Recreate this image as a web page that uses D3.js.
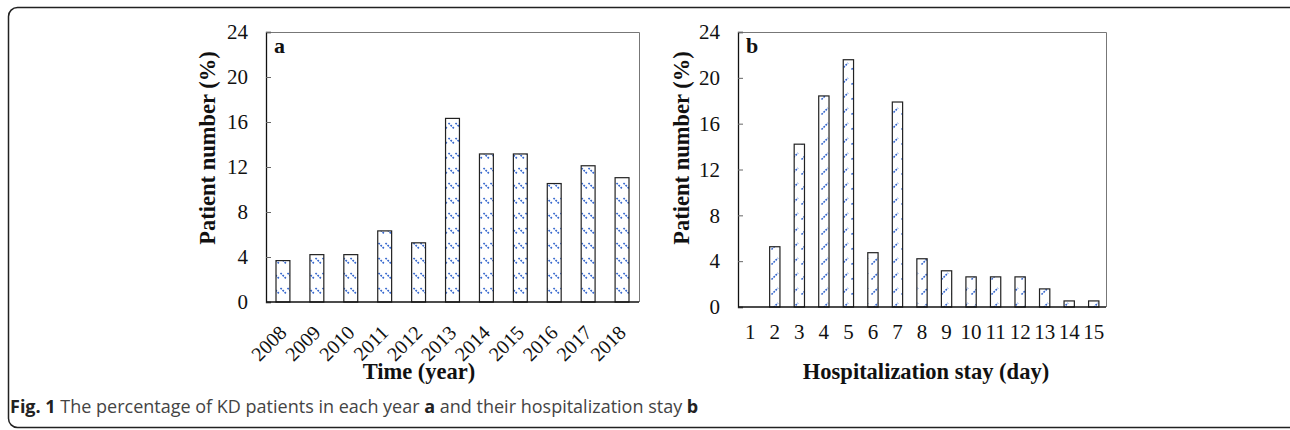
<!DOCTYPE html>
<html>
<head>
<meta charset="utf-8">
<script src="https://cdn.jsdelivr.net/npm/d3@7"></script>
<style>
  html, body { margin: 0; padding: 0; background: #fff; }
  svg { display: block; }
</style>
</head>
<body>
<svg id="chart" width="1290" height="430"></svg>
<script>
// ---- data ----
const yearCategories = ["2008","2009","2010","2011","2012","2013","2014","2015","2016","2017","2018"];
const yearValues = [3.68, 4.21, 4.21, 6.32, 5.26, 16.32, 13.16, 13.16, 10.53, 12.11, 11.05];
const stayCategories = ["1","2","3","4","5","6","7","8","9","10","11","12","13","14","15"];
const stayValues = [0, 5.26, 14.21, 18.42, 21.58, 4.74, 17.89, 4.21, 3.16, 2.63, 2.63, 2.63, 1.58, 0.53, 0.53];
const yTicks = [0, 4, 8, 12, 16, 20, 24];
const yTitle = "Patient number (%)";
const xTitleA = "Time (year)";
const xTitleB = "Hospitalization stay (day)";

const svg = d3.select("#chart");
const serif = "'Liberation Serif', 'Times New Roman', serif";

// border
svg.append("rect")
  .attr("x", 8.5).attr("y", 7.5).attr("width", 1290).attr("height", 420)
  .attr("rx", 9).attr("ry", 9)
  .attr("fill", "none").attr("stroke", "#222").attr("stroke-width", 1.5);

// patterns
const defs = svg.append("defs");
const pa = defs.append("pattern").attr("id", "patA")
  .attr("patternUnits", "userSpaceOnUse").attr("width", 7).attr("height", 15);
pa.append("line").attr("x1", 0.5).attr("y1", 3).attr("x2", 6.5).attr("y2", 9)
  .attr("stroke", "#2f62cc").attr("stroke-width", 1.6).attr("stroke-dasharray", "1.8,1.1");
const pb = defs.append("pattern").attr("id", "patB")
  .attr("patternUnits", "userSpaceOnUse").attr("width", 10).attr("height", 15);
pb.append("line").attr("x1", 1.5).attr("y1", 9.5).attr("x2", 8).attr("y2", 3)
  .attr("stroke", "#2f62cc").attr("stroke-width", 1.6).attr("stroke-dasharray", "1.8,1.1");

function panel(opts) {
  const { x0, x1, y0, y1, cats, vals, pattern, letter, rotateLabels, xTitle, xTitleX, yTitleX, pad } = opts;
  const g = svg.append("g");
  const x = d3.scaleBand().domain(cats).range([x0, x1]).paddingInner(pad).paddingOuter(pad / 2);
  const y = d3.scaleLinear().domain([0, 24]).range([y1, y0]);

  // frame top/right (grey)
  g.append("path")
    .attr("d", `M${x0},${y0 + 0.5}H${x1 + 0.5}V${y1}`)
    .attr("fill", "none").attr("stroke", "#777").attr("stroke-width", 1);

  // bars
  g.selectAll("rect.bar").data(vals).join("rect")
    .attr("class", "bar")
    .attr("x", (d, i) => x(cats[i]))
    .attr("width", x.bandwidth())
    .attr("y", d => y(d))
    .attr("height", d => y(0) - y(d))
    .attr("fill", `url(#${pattern})`)
    .attr("stroke", "#222").attr("stroke-width", 1.2);

  // y axis
  const ya = g.append("g").attr("transform", `translate(${x0},0)`)
    .call(d3.axisLeft(y).tickValues(yTicks).tickSize(-5).tickPadding(18));
  ya.select(".domain").attr("stroke", "#111").attr("stroke-width", 1.3);
  ya.selectAll(".tick line").attr("stroke", "#666");
  ya.selectAll("text").attr("font-family", serif).attr("font-size", 21).attr("fill", "#111");

  // x axis
  const xa = g.append("g").attr("transform", `translate(0,${y1})`)
    .call(d3.axisBottom(x).tickSize(0).tickSizeOuter(0).tickPadding(17));
  xa.select(".domain").attr("stroke", "#111").attr("stroke-width", 1.3)
    .attr("d", `M${x0},0H${x1}`);
  xa.selectAll("text").attr("font-family", serif).attr("font-size", 21).attr("fill", "#111");
  if (rotateLabels) {
    xa.selectAll("text")
      .attr("text-anchor", "end")
      .attr("font-size", 20)
      .attr("y", 0).attr("x", 0).attr("dy", "0.35em")
      .attr("transform", `translate(0,27) rotate(-45)`);
  }

  // axis titles
  g.append("text")
    .attr("transform", `translate(${yTitleX},148) rotate(-90)`)
    .attr("text-anchor", "middle").attr("dy", "0.35em")
    .attr("font-family", serif).attr("font-weight", "bold").attr("font-size", 22.5)
    .attr("fill", "#111").text(yTitle);
  g.append("text")
    .attr("x", xTitleX).attr("y", 379)
    .attr("text-anchor", "middle")
    .attr("font-family", serif).attr("font-weight", "bold").attr("font-size", 22.5)
    .attr("fill", "#111").text(xTitle);

  // panel letter
  g.append("text")
    .attr("x", x0 + 8).attr("y", y0 + 21)
    .attr("font-family", serif).attr("font-weight", "bold").attr("font-size", 22)
    .attr("fill", "#111").text(letter);
}

panel({ x0: 266, x1: 639, y0: 32, y1: 302, cats: yearCategories, vals: yearValues,
  pattern: "patA", letter: "a", rotateLabels: true, xTitle: xTitleA, xTitleX: 419, yTitleX: 207, pad: 0.59 });
panel({ x0: 738, x1: 1106, y0: 32, y1: 307, cats: stayCategories, vals: stayValues,
  pattern: "patB", letter: "b", rotateLabels: false, xTitle: xTitleB, xTitleX: 926, yTitleX: 681, pad: 0.58 });

// caption
const cap = svg.append("text").attr("x", 10).attr("y", 413)
  .attr("font-family", "'Open Sans', 'Noto Sans', sans-serif").attr("font-size", 18).attr("fill", "#444");
cap.append("tspan").attr("font-weight", "bold").attr("fill", "#222").text("Fig. 1");
cap.append("tspan").text(" The percentage of KD patients in each year ");
cap.append("tspan").attr("font-weight", "bold").attr("fill", "#222").text("a");
cap.append("tspan").text(" and their hospitalization stay ");
cap.append("tspan").attr("font-weight", "bold").attr("fill", "#222").text("b");
</script>
</body>
</html>
